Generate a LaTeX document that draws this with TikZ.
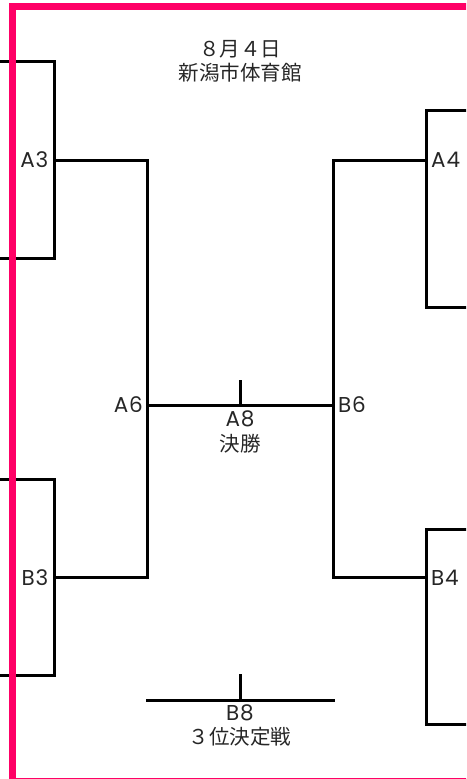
\documentclass[tikz,border=0pt]{standalone}
\usepackage{fontspec}
\newfontfamily\jpfont{Noto Sans CJK JP}
\newfontfamily\latfont[LetterSpace=4]{Poppins}
\definecolor{framepink}{HTML}{FF0066}
\begin{document}
\begin{tikzpicture}[x=1pt,y=-1pt,
  br/.style={line width=3pt, black, line cap=rect},
  lbl/.style={font=\latfont\fontsize{21.5}{23}\selectfont, inner sep=0pt, text=black!85},
  jlbl/.style={font=\jpfont\fontsize{20.5}{22}\selectfont, inner sep=0pt, text=black!85}]
\useasboundingbox (0,0) rectangle (466,779);
\begin{scope}
\clip (0,0) rectangle (466,779);
% corner coordinates
\coordinate (a3top) at (0,61);
\coordinate (a3bot) at (0,258);
\coordinate (b3top) at (0,479);
\coordinate (b3bot) at (0,675);
\coordinate (a4top) at (470,110.7);
\coordinate (a4bot) at (470,307);
\coordinate (b4top) at (470,529);
\coordinate (b4bot) at (470,724);
\coordinate (a3j) at (54,160);
\coordinate (b3j) at (54,577.5);
\coordinate (a4j) at (426,160);
\coordinate (b4j) at (426,577.5);
\coordinate (a6l) at (147.5,405);
\coordinate (b6r) at (333,405);
\coordinate (a8tick) at (240,381);
\coordinate (a8base) at (240,405);
\coordinate (b8l) at (147.5,700);
\coordinate (b8r) at (333,700);
\coordinate (b8tick) at (240,675);
\coordinate (b8base) at (240,700);
% first-round brackets
\draw[br] (a3top) -| (a3j) |- (a3bot);
\draw[br] (b3top) -| (b3j) |- (b3bot);
\draw[br] (a4top) -| (a4j) |- (a4bot);
\draw[br] (b4top) -| (b4j) |- (b4bot);
% semi-final brackets
\draw[br] (a3j) -| (a6l) |- (b3j);
\draw[br] (a4j) -| (b6r) |- (b4j);
% final
\draw[br] (a6l) -- (b6r);
\draw[br] (a8tick) -- (a8base);
% third place
\draw[br] (b8l) -- (b8r);
\draw[br] (b8tick) -- (b8base);
% frame
\draw[line width=6.5pt, framepink] (12.7,6.7) rectangle (470,781.5);
\end{scope}
% labels
\node[lbl, anchor=east] (A3) at (48.5,160) {A3};
\node[lbl, anchor=east] (B3) at (48.5,578) {B3};
\node[lbl, anchor=west] (A4) at (431,160) {A4};
\node[lbl, anchor=west] (B4) at (431,578) {B4};
\node[lbl, anchor=east] (A6) at (143,405) {A6};
\node[lbl, anchor=west] (B6) at (338,405) {B6};
\node[lbl] (A8) at (240,419) {A8};
\node[jlbl] (final) at (240,443.5) {決勝};
\node[lbl] (B8) at (240,712.5) {B8};
\node[jlbl] (third) at (240,736.5) {３位決定戦};
\node[jlbl] (date) at (240,49) {８月４日};
\node[jlbl] (venue) at (240,72.5) {新潟市体育館};
\end{tikzpicture}
\end{document}
